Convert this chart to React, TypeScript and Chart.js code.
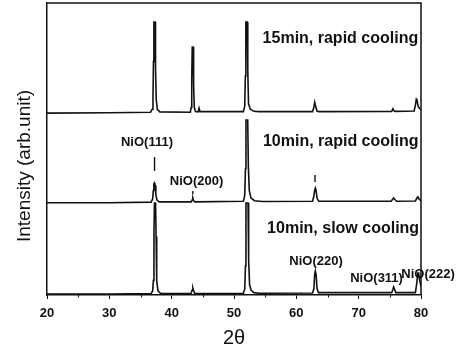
import React, { useEffect, useRef } from "react";
import { Chart, registerables } from "chart.js";

Chart.register(...registerables);

// 2θ axis
const xMin = 20;
const xMax = 80;
const majorTicks = [20, 30, 40, 50, 60, 70, 80];
const minorTicks = [25, 35, 45, 55, 65, 75];

// vertical offsets of the stacked patterns (arb. units)
const seriesNames = ["10min, slow cooling", "10min, rapid cooling", "15min, rapid cooling"];
const seriesOffsets = [0, 31.3, 62];

// [2θ, relative intensity]
const slowCooling10: [number, number][] = [
  [20, 0.3], [30, 0.35], [36.7, 0.5], [36.95, 1.4], [37.07, 5], [37.16, 22], [37.24, 31.5], [37.42, 31.5], [37.5, 20], [37.6, 5], [37.8, 1.4], [38.2, 0.6],
  [43.1, 0.5], [43.28, 1.6], [43.4, 2.4], [43.52, 1.5], [43.7, 0.5],
  [51.5, 0.6], [51.72, 2], [51.84, 10], [51.92, 31.5], [52.25, 31.5], [52.35, 12], [52.5, 3.5], [52.75, 1.6], [53.2, 0.8], [54, 0.6],
  [62.6, 0.7], [62.82, 2.2], [62.94, 7], [63.05, 8.2], [63.17, 7], [63.32, 2.2], [63.55, 0.8],
  [75.3, 0.8], [75.5, 2], [75.6, 2.7], [75.75, 2], [75.95, 0.8],
  [79.1, 0.8], [79.32, 4], [79.48, 7.5], [79.62, 7.5], [79.78, 5], [80, 3],
];

const rapidCooling10: [number, number][] = [
  [20, 0.3], [30, 0.3], [36.7, 0.5], [36.95, 1.6], [37.06, 4.5], [37.14, 6.8], [37.25, 7.1], [37.36, 6.2], [37.46, 3.2], [37.62, 1.3], [38, 0.6],
  [43.15, 0.6], [43.3, 1.3], [43.4, 1.9], [43.5, 1.2], [43.7, 0.6],
  [51.5, 0.8], [51.72, 2.8], [51.84, 12], [51.92, 28.6], [52.2, 28.6], [52.3, 13], [52.45, 4.5], [52.72, 1.9], [53.3, 1], [54.5, 0.7],
  [62.6, 0.8], [62.82, 2.6], [62.94, 4.6], [63.05, 5.3], [63.16, 4.6], [63.32, 1.9], [63.6, 0.8],
  [75.2, 0.8], [75.45, 1.5], [75.6, 1.9], [75.8, 1.4], [76.1, 0.8],
  [79.1, 0.9], [79.35, 1.9], [79.5, 2.3], [79.7, 1.5], [80, 1.0],
];

const rapidCooling15: [number, number][] = [
  [20, 0.3], [30, 0.4], [36.6, 0.6], [36.88, 1.6], [37.0, 5], [37.08, 18], [37.15, 31.5], [37.33, 31.5], [37.41, 16], [37.52, 5], [37.7, 1.6], [38.1, 0.7],
  [43.0, 0.6], [43.12, 2.2], [43.22, 12], [43.3, 22.9], [43.44, 22.9], [43.52, 10], [43.63, 2.2], [43.82, 0.8],
  [44.25, 0.7], [44.4, 2], [44.55, 0.8],
  [51.5, 0.8], [51.72, 2.6], [51.82, 13], [51.9, 31.5], [52.12, 31.5], [52.21, 15], [52.33, 3.5], [52.62, 1.6], [53.2, 0.9], [54, 0.8],
  [62.6, 0.8], [62.8, 2.2], [62.95, 4], [63.1, 2.6], [63.3, 1], [63.6, 0.8],
  [75.3, 0.9], [75.5, 1.8], [75.7, 1], [75.9, 0.9],
  [78.9, 1], [79.1, 3], [79.25, 5.1], [79.35, 4.8], [79.55, 2.5], [79.75, 2], [80, 1.5],
];

// short reflection markers above the 10min rapid-cooling pattern: [2θ, from, to] (relative)
const reflectionMarks: [number, number, number][] = [
  [37.25, 11.2, 16],
  [43.4, 3.3, 4.3],
  [63.0, 7.4, 9.8],
];

// text annotations
const annotationTexts = ["15min, rapid cooling", "10min, rapid cooling", "10min, slow cooling", "NiO(111)", "NiO(200)", "NiO(220)", "NiO(311)", "NiO(222)"];
const annotationX = [79.55, 79.6, 79.7, 36.04, 44.0, 63.16, 72.87, 81.13];
const annotationY = [87.7, 52.7, 22.8, 52.1, 39.0, 11.6, 5.8, 7.2];
const annotationAlign: CanvasTextAlign[] = ["right", "right", "right", "center", "center", "center", "center", "center"];
const annotationBold = [true, true, true, false, false, false, false, false];

const xTitle = "2θ";
const yTitle = "Intensity (arb.unit)";

const FONT = '"Liberation Sans", Arial, Helvetica, sans-serif';
const INK = "#111";

const decor = {
  id: "decor",
  afterDatasetsDraw(chart: any) {
    const { ctx, chartArea, scales } = chart;
    const { left, right, top, bottom } = chartArea;
    const x = scales.x;
    const y = scales.y;
    ctx.save();
    ctx.strokeStyle = INK;
    ctx.lineWidth = 1.5;
    ctx.beginPath();
    ctx.moveTo(left, top);
    ctx.lineTo(right, top);
    ctx.lineTo(right, bottom);
    ctx.stroke();

    ctx.lineWidth = 1;
    ctx.beginPath();
    for (const v of minorTicks) {
      const px = Math.round(x.getPixelForValue(v)) + 0.5;
      ctx.moveTo(px, bottom);
      ctx.lineTo(px, bottom + 2.5);
    }
    ctx.stroke();

    ctx.fillStyle = INK;
    ctx.textBaseline = "middle";
    annotationTexts.forEach((t, i) => {
      ctx.font = annotationBold[i] ? `bold 16px ${FONT}` : `bold 13px ${FONT}`;
      ctx.textAlign = annotationAlign[i];
      ctx.fillText(t, x.getPixelForValue(annotationX[i]), y.getPixelForValue(annotationY[i]));
    });

    ctx.font = `19px ${FONT}`;
    ctx.textAlign = "center";
    ctx.translate(25, 166);
    ctx.rotate(-Math.PI / 2);
    ctx.fillText(yTitle, 0, 0);
    ctx.restore();
  },
};

export default function App() {
  const ref = useRef<HTMLCanvasElement>(null);

  useEffect(() => {
    if (!ref.current) return;
    const series = [slowCooling10, rapidCooling10, rapidCooling15];
    const datasets: any[] = series.map((s, i) => ({
      label: seriesNames[i],
      data: s.map(([a, b]) => ({ x: a, y: b + seriesOffsets[i] })),
      borderColor: INK,
      borderWidth: 1.6,
      pointRadius: 0,
      tension: 0,
      fill: false,
    }));
    const markData: any[] = [];
    reflectionMarks.forEach(([a, lo, hi]) => {
      markData.push({ x: a, y: lo + seriesOffsets[1] });
      markData.push({ x: a, y: hi + seriesOffsets[1] });
      markData.push({ x: a, y: null });
    });
    datasets.push({
      label: "marks",
      data: markData,
      borderColor: INK,
      borderWidth: 1.4,
      pointRadius: 0,
      spanGaps: false,
    });

    const chart = new Chart(ref.current, {
      type: "line",
      data: { datasets },
      plugins: [decor],
      options: {
        animation: false,
        responsive: false,
        layout: { padding: { left: 0, top: 3, right: 36, bottom: 0 } },
        plugins: { legend: { display: false }, tooltip: { enabled: false } },
        scales: {
          x: {
            type: "linear",
            min: xMin,
            max: xMax,
            afterBuildTicks: (s: any) => {
              s.ticks = majorTicks.map((v) => ({ value: v }));
            },
            afterFit: (s: any) => {
              s.height = 56;
            },
            ticks: {
              color: INK,
              font: { family: FONT, size: 13, weight: "bold" },
              padding: 7,
              maxRotation: 0,
            },
            grid: { display: true, drawOnChartArea: false, drawTicks: true, tickLength: 4, color: INK, lineWidth: 1 },
            border: { display: true, color: INK, width: 1.5 },
            title: {
              display: true,
              text: xTitle,
              color: INK,
              font: { family: FONT, size: 20 },
              padding: { top: 0, bottom: 1 },
            },
          },
          y: {
            type: "linear",
            min: 0,
            max: 100,
            afterFit: (s: any) => {
              s.width = 47;
            },
            ticks: { display: false },
            grid: { display: false, drawTicks: false },
            border: { display: true, color: INK, width: 1.5 },
          },
        },
      },
    });
    return () => chart.destroy();
  }, []);

  return (
    <div style={{ position: "fixed", left: 0, top: 0, width: 457, height: 351, background: "#fff" }}>
      <canvas ref={ref} width={457} height={351} />
    </div>
  );
}
